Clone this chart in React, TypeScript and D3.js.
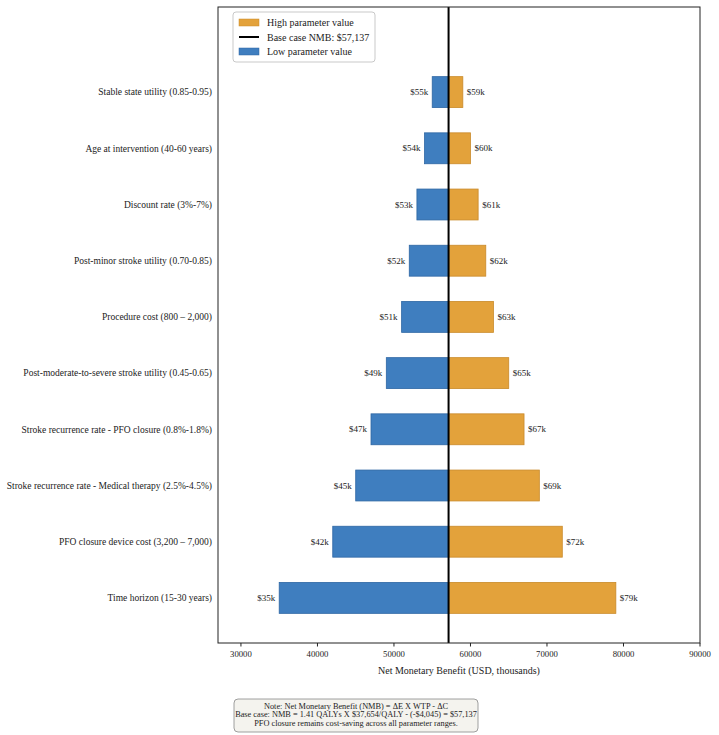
import React from "react";
import * as d3 from "d3";

const categories = [
  "Stable state utility (0.85-0.95)",
  "Age at intervention (40-60 years)",
  "Discount rate (3%-7%)",
  "Post-minor stroke utility (0.70-0.85)",
  "Procedure cost (800 – 2,000)",
  "Post-moderate-to-severe stroke utility (0.45-0.65)",
  "Stroke recurrence rate - PFO closure (0.8%-1.8%)",
  "Stroke recurrence rate - Medical therapy (2.5%-4.5%)",
  "PFO closure device cost (3,200 – 7,000)",
  "Time horizon (15-30 years)",
];
const lowValues = [55000, 54000, 53000, 52000, 51000, 49000, 47000, 45000, 42000, 35000];
const highValues = [59000, 60000, 61000, 62000, 63000, 65000, 67000, 69000, 72000, 79000];
const baseCase = 57137;
const xTicks = [30000, 40000, 50000, 60000, 70000, 80000, 90000];
const noteLines = [
  "Note: Net Monetary Benefit (NMB) = ΔE X WTP - ΔC",
  "Base case: NMB = 1.41 QALYs X $37,654/QALY - (-$4,045) = $57,137",
  "PFO closure remains cost-saving across all parameter ranges.",
];

const W = 719;
const H = 735;
const plot = { left: 218, right: 700, top: 7, bottom: 643 };
const font = "'Liberation Serif', 'Times New Roman', serif";
const blue = "#3f7ebf";
const blueEdge = "#2d66a3";
const orange = "#e3a23b";
const orangeEdge = "#c98a2a";

const fmtK = (v: number) => `$${Math.round(v / 1000)}k`;

const App = () => {
  const x = d3.scaleLinear().domain([27000, 90000]).range([plot.left, plot.right]);
  const y = d3
    .scaleBand<string>()
    .domain(categories)
    .range([64, 626])
    .paddingInner(0.45)
    .paddingOuter(0.225);
  const bh = y.bandwidth();
  const bx = x(baseCase);

  return (
    <svg width={W} height={H} style={{ position: "absolute", left: 0, top: 0, background: "#fff" }} fontFamily={font}>
      {/* bars */}
      {categories.map((c, i) => {
        const yy = y(c)!;
        const lo = lowValues[i];
        const hi = highValues[i];
        return (
          <g key={c}>
            <rect x={x(lo)} y={yy} width={bx - x(lo)} height={bh} fill={blue} stroke={blueEdge} strokeWidth={0.8} />
            <rect x={bx} y={yy} width={x(hi) - bx} height={bh} fill={orange} stroke={orangeEdge} strokeWidth={0.8} />
            <text x={x(lo) - 4} y={yy + bh / 2} dy="0.35em" textAnchor="end" fontSize={9} fill="#222">{fmtK(lo)}</text>
            <text x={x(hi) + 4} y={yy + bh / 2} dy="0.35em" fontSize={9} fill="#222">{fmtK(hi)}</text>
            <text x={plot.left - 6} y={yy + bh / 2} dy="0.35em" textAnchor="end" fontSize={9.5} fill="#222">{c}</text>
          </g>
        );
      })}

      {/* base line */}
      <line x1={bx} x2={bx} y1={plot.top} y2={plot.bottom} stroke="#000" strokeWidth={2} />

      {/* frame */}
      <rect x={plot.left} y={plot.top} width={plot.right - plot.left} height={plot.bottom - plot.top} fill="none" stroke="#222" strokeWidth={1} />

      {/* x axis */}
      {xTicks.map((t) => (
        <g key={t} transform={`translate(${x(t)}, ${plot.bottom})`}>
          <line y2={3.5} stroke="#222" />
          <text y={14} textAnchor="middle" fontSize={8.7} fill="#222">{t}</text>
        </g>
      ))}
      <text x={(plot.left + plot.right) / 2} y={674} textAnchor="middle" fontSize={10} fill="#222">
        Net Monetary Benefit (USD, thousands)
      </text>

      {/* legend */}
      <g transform="translate(233, 12)">
        <rect width={142} height={50} rx={3} fill="#fff" stroke="#bbb" strokeWidth={0.8} />
        <rect x={6} y={7} width={20} height={7} fill={orange} stroke={orangeEdge} strokeWidth={0.5} />
        <text x={34} y={10.5} dy="0.35em" fontSize={10} fill="#222">High parameter value</text>
        <line x1={6} x2={26} y1={25} y2={25} stroke="#000" strokeWidth={2} />
        <text x={34} y={25} dy="0.35em" fontSize={10} fill="#222">Base case NMB: $57,137</text>
        <rect x={6} y={36} width={20} height={7} fill={blue} stroke={blueEdge} strokeWidth={0.5} />
        <text x={34} y={39.5} dy="0.35em" fontSize={10} fill="#222">Low parameter value</text>
      </g>

      {/* note */}
      <g>
        <rect x={234} y={699} width={244} height={33} rx={4} fill="#f4f3ee" stroke="#888" strokeWidth={0.8} />
        {noteLines.map((l, i) => (
          <text key={i} x={356} y={708.5 + i * 8.7} textAnchor="middle" fontSize={8.3} fill="#222">{l}</text>
        ))}
      </g>
    </svg>
  );
};

export default App;
